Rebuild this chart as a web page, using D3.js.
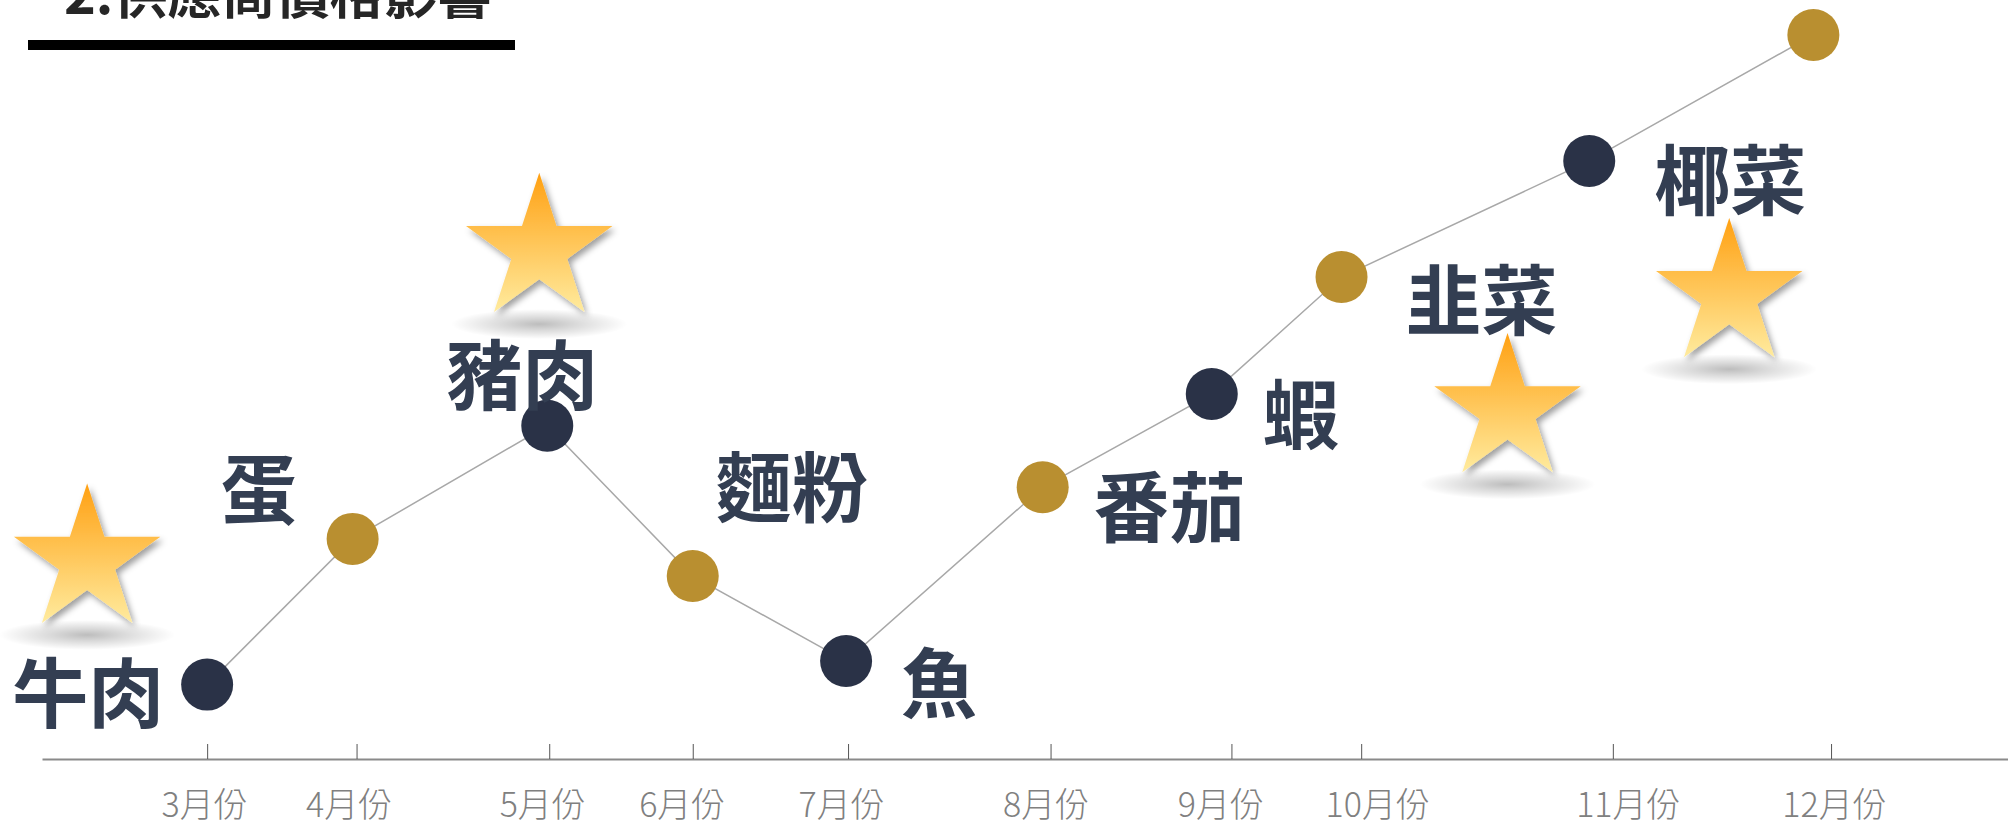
<!DOCTYPE html>
<html>
<head>
<meta charset="utf-8">
<script src="https://cdn.jsdelivr.net/npm/d3@7"></script>
<style>
  body { margin: 0; background: #fff; }
  svg { display: block; }
</style>
</head>
<body>
<div id="chart"></div>
<script>

// month ticks along the timeline (position in % of axis length)
var months = ["3月份","4月份","5月份","6月份","7月份","8月份","9月份","10月份","11月份","12月份"];
var monthAt = [8.4, 16.0, 25.8, 33.1, 41.0, 51.3, 60.5, 67.1, 79.9, 91.0];

// goods, where they sit on the timeline, and their price index
var items = ["牛肉","蛋","豬肉","麵粉","魚","番茄","蝦","韭菜","椰菜",""];
var itemAt = [8.4, 15.8, 25.7, 33.1, 40.9, 50.9, 59.5, 66.1, 78.7, 90.1];
var priceIndex = [9.8, 29.0, 43.9, 24.1, 12.9, 35.8, 48.1, 63.5, 78.8, 95.4];

// goods marked with a star
var starred = ["牛肉","豬肉","韭菜","椰菜"];

var title = "2.供應商價格影響";

// layout only: month label nudges, label placement relative to its dot
var monthNudge = [-3, -8, -7, -11, -7, -5, -11, 16, 15, 3];
var labelOffset = [[-119, 9], [-94, -49], [-25, -50], [99, -88], [93, 23],
                   [127, 21], [89, 21], [140, 24], [141, 20], [0, 0]];
// star placement relative to its label
var starOffset = {"牛肉": [-1, -133], "豬肉": [17, -126], "韭菜": [26, 109], "椰菜": [-1, 114]};

var W = 2008, H = 827;
var navy = "#2a3247", gold = "#b98f30", ink = "#333e52";

var svg = d3.select("#chart")
  .append("svg")
    .attr("width", W)
    .attr("height", H);

var defs = svg.append("defs");

var grad = defs.append("linearGradient")
    .attr("id", "starFill")
    .attr("x1", 0).attr("y1", 0).attr("x2", 0).attr("y2", 1);
grad.append("stop").attr("offset", "0%").attr("stop-color", "#ffa012");
grad.append("stop").attr("offset", "100%").attr("stop-color", "#ffeb9e");

var shade = defs.append("radialGradient").attr("id", "floorShade");
shade.append("stop").attr("offset", "0%").attr("stop-color", "#000").attr("stop-opacity", 0.26);
shade.append("stop").attr("offset", "40%").attr("stop-color", "#000").attr("stop-opacity", 0.15);
shade.append("stop").attr("offset", "100%").attr("stop-color", "#000").attr("stop-opacity", 0);

var drop = defs.append("filter").attr("id", "starShadow")
    .attr("x", "-30%").attr("y", "-30%").attr("width", "160%").attr("height", "160%");
drop.append("feDropShadow")
    .attr("dx", 3).attr("dy", 4).attr("stdDeviation", 3)
    .attr("flood-color", "#000").attr("flood-opacity", 0.38);

var x = d3.scaleLinear()
  .domain([0, 100])
  .range([42, W]);

var y = d3.scaleLinear()
  .domain([0, 100])
  .range([759, 0]);

// title (top clipped like the slide)
svg.append("text")
    .attr("x", 64)
    .attr("y", 14)
    .style("font-family", "'Noto Sans CJK TC', 'Noto Sans CJK SC', sans-serif")
    .style("font-weight", "bold")
    .style("font-size", "54px")
    .attr("fill", "#262626")
    .text(title);

svg.append("rect")
    .attr("x", 28)
    .attr("y", 40)
    .attr("width", 487)
    .attr("height", 10)
    .attr("fill", "#000");

// axis
var axis = svg.append("g")
  .attr("transform", "translate(0,759)")
  .call(d3.axisBottom(x)
    .tickValues(monthAt)
    .tickFormat(function(d, i) { return months[i]; })
    .tickSizeInner(-15)
    .tickSizeOuter(0));

axis.select(".domain")
    .attr("stroke", "#8a8a8a")
    .attr("stroke-width", 2);
axis.selectAll(".tick line")
    .attr("stroke", "#555")
    .attr("stroke-width", 1);
axis.selectAll(".tick text")
    .attr("y", 58)
    .attr("dy", 0)
    .attr("x", function(d, i) { return monthNudge[i]; })
    .attr("fill", "#808080")
    .style("font-family", "'Noto Sans CJK TC', 'Noto Sans CJK SC', sans-serif")
    .style("font-weight", 300)
    .style("font-size", "34px");

var pts = items.map(function(d, i) {
  return {name: d, at: itemAt[i], v: priceIndex[i], i: i};
});

svg.append("path")
    .datum(pts)
    .attr("fill", "none")
    .attr("stroke", "#a8a8a8")
    .attr("stroke-width", 1.5)
    .attr("d", d3.line()
      .x(function(d) { return x(d.at); })
      .y(function(d) { return y(d.v); }));

svg.selectAll(".dot")
  .data(pts)
  .enter().append("circle")
    .attr("class", "dot")
    .attr("cx", function(d) { return x(d.at); })
    .attr("cy", function(d) { return y(d.v); })
    .attr("r", 26)
    .attr("fill", function(d) { return d.i % 2 == 0 ? navy : gold; });

svg.selectAll(".lbl")
  .data(pts.filter(function(d) { return d.name != ""; }))
  .enter().append("text")
    .attr("class", "lbl")
    .attr("x", function(d) { return x(d.at) + labelOffset[d.i][0]; })
    .attr("y", function(d) { return y(d.v) + labelOffset[d.i][1]; })
    .attr("dy", "0.37em")
    .attr("text-anchor", "middle")
    .attr("fill", ink)
    .style("font-family", "'Noto Sans CJK TC', 'Noto Sans CJK SC', sans-serif")
    .style("font-weight", "bold")
    .style("font-size", "76px")
    .text(function(d) { return d.name; });

// stars
var R = 77, r = R * 0.382;
function starPath(cx, cy) {
  var p = [];
  for (var k = 0; k < 10; k++) {
    var a = -Math.PI / 2 + k * Math.PI / 5;
    var rr = k % 2 == 0 ? R : r;
    p.push([cx + rr * Math.cos(a), cy + rr * Math.sin(a)]);
  }
  return "M" + p.join("L") + "Z";
}

var starPts = pts.filter(function(d) { return starred.indexOf(d.name) >= 0; });

starPts.forEach(function(d) {
  var cx = x(d.at) + labelOffset[d.i][0] + starOffset[d.name][0];
  var cy = y(d.v) + labelOffset[d.i][1] + starOffset[d.name][1];

  svg.append("ellipse")
      .attr("cx", cx)
      .attr("cy", cy + R * 0.809 + 12)
      .attr("rx", 88)
      .attr("ry", 15)
      .attr("fill", "url(#floorShade)");

  svg.append("path")
      .attr("d", starPath(cx, cy))
      .attr("fill", "url(#starFill)")
      .attr("filter", "url(#starShadow)");
});

</script>
</body>
</html>
